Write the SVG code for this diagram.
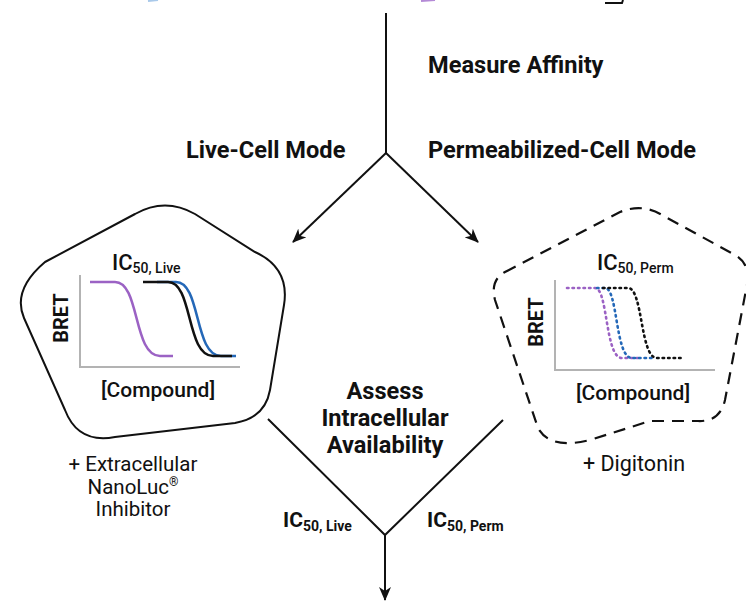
<svg xmlns="http://www.w3.org/2000/svg" width="746" height="604" viewBox="0 0 746 604">
<style>
  text { font-family: Roboto, "Liberation Sans", sans-serif; fill: #111; }
  .h { font-weight: 700; font-size: 23.6px; }
  .m { font-weight: 500; }
  .r { font-weight: 400; font-size: 20.5px; }
  .conn { stroke: #111; stroke-width: 2; fill: none; }
  .axis { stroke: #b3b3b3; stroke-width: 2; fill: none; }
  .curve { stroke-width: 2.5; fill: none; }
  .dot { stroke-width: 2.6; fill: none; stroke-dasharray: 1.5 4; stroke-linecap: round; }
  .purple { stroke: #9b62c4; }
  .blue { stroke: #2468b8; }
  .black { stroke: #111; }
</style>
<defs>
  <marker id="arr" viewBox="0 0 14 12" refX="13" refY="6" markerWidth="14" markerHeight="12" markerUnits="userSpaceOnUse" orient="auto">
    <path d="M0,0 L14,6 L0,12 L4,6 Z" fill="#111"/>
  </marker>
</defs>

<g id="fragments">
  <path d="M148,1 L158,0" stroke="#a9c9ea" stroke-width="2" fill="none"/>
  <path d="M421,1 L435,0" stroke="#b48ad6" stroke-width="2" fill="none"/>
  <path d="M605,3 L622,3 L623,0" stroke="#111" stroke-width="2" fill="none"/>
</g>

<g id="connectors">
  <path class="conn" d="M386,13 L386,153"/>
  <path class="conn" d="M386,153 L293,242" marker-end="url(#arr)"/>
  <path class="conn" d="M386,153 L478,242" marker-end="url(#arr)"/>
  <path class="conn" d="M268,419 L385,535 L503,420"/>
  <path class="conn" d="M385,535 L385,600" marker-end="url(#arr)"/>
</g>

<g id="labels">
  <text class="h" x="428" y="73">Measure Affinity</text>
  <text class="h" x="186" y="158">Live-Cell Mode</text>
  <text class="h" x="428" y="158">Permeabilized-Cell Mode</text>
  <text class="h" x="385" y="399" text-anchor="middle">Assess</text>
  <text class="h" x="385" y="426" text-anchor="middle">Intracellular</text>
  <text class="h" x="385" y="453" text-anchor="middle">Availability</text>
  <text class="h" x="283" y="527" style="font-size:21px">IC<tspan dy="4" style="font-size:14px">50, Live</tspan></text>
  <text class="h" x="427" y="527" style="font-size:21px">IC<tspan dy="4" style="font-size:14px">50, Perm</tspan></text>
</g>

<g id="live-cell">
  <path class="conn" d="M45,262 L135,214 Q165,197 195,214 L255,252 Q290,268 284,305 L270,390 Q265,418 235,423 L115,437 Q78,444 65,410 L24,318 Q12,290 45,262 Z"/>
  <text class="m" x="112" y="270" style="font-size:22px">IC<tspan dy="3" style="font-size:14px">50, Live</tspan></text>
  <text class="m" transform="translate(68,318) rotate(-90)" text-anchor="middle" style="font-size:20px;font-weight:700">BRET</text>
  <path class="axis" d="M80,275 L80,367 L240,367"/>
  <path class="curve purple" d="M90,282 L115,282 C140,282 133,356 160,356 L173,356"/>
  <path class="curve blue" d="M157,282 L176,282 C201,282 194,356 221,356 L236,356"/>
  <path class="curve black" d="M143,282 L168,282 C193,282 186,356 213,356 L232,356"/>
  <text class="m" x="158" y="397" text-anchor="middle" style="font-size:21px">[Compound]</text>
  <text class="r" x="133" y="471" text-anchor="middle">+ Extracellular</text>
  <text class="r" x="133" y="494" text-anchor="middle">NanoLuc<tspan dy="-8" style="font-size:12px">®</tspan></text>
  <text class="r" x="133" y="516" text-anchor="middle">Inhibitor</text>
</g>

<g id="perm-cell">
  <path class="conn" style="stroke-dasharray:12 8;stroke-width:2.2" d="M505,272 L620,212 Q642,203 662,215 L735,255 Q752,264 746,290 L725,400 Q720,422 698,421 L650,421 L590,440 Q550,450 538,428 L495,300 Q490,280 505,272 Z"/>
  <text class="m" x="597" y="270" style="font-size:22px">IC<tspan dy="3" style="font-size:14px">50, Perm</tspan></text>
  <text class="m" transform="translate(543,322) rotate(-90)" text-anchor="middle" style="font-size:20px;font-weight:700">BRET</text>
  <path class="axis" d="M555,280 L555,370 L715,370"/>
  <path class="dot purple" d="M567,288 L595,288 C608,288 605,358 622,358 L640,358"/>
  <path class="dot blue" d="M597,288 L605,288 C618,288 615,358 632,358 L655,358"/>
  <path class="dot black" d="M603,288 L628,288 C643,288 640,358 657,358 L682,358"/>
  <text class="m" x="633" y="400" text-anchor="middle" style="font-size:21px">[Compound]</text>
  <text class="r" x="634" y="471" text-anchor="middle" style="font-size:21.5px">+ Digitonin</text>
</g>
</svg>
